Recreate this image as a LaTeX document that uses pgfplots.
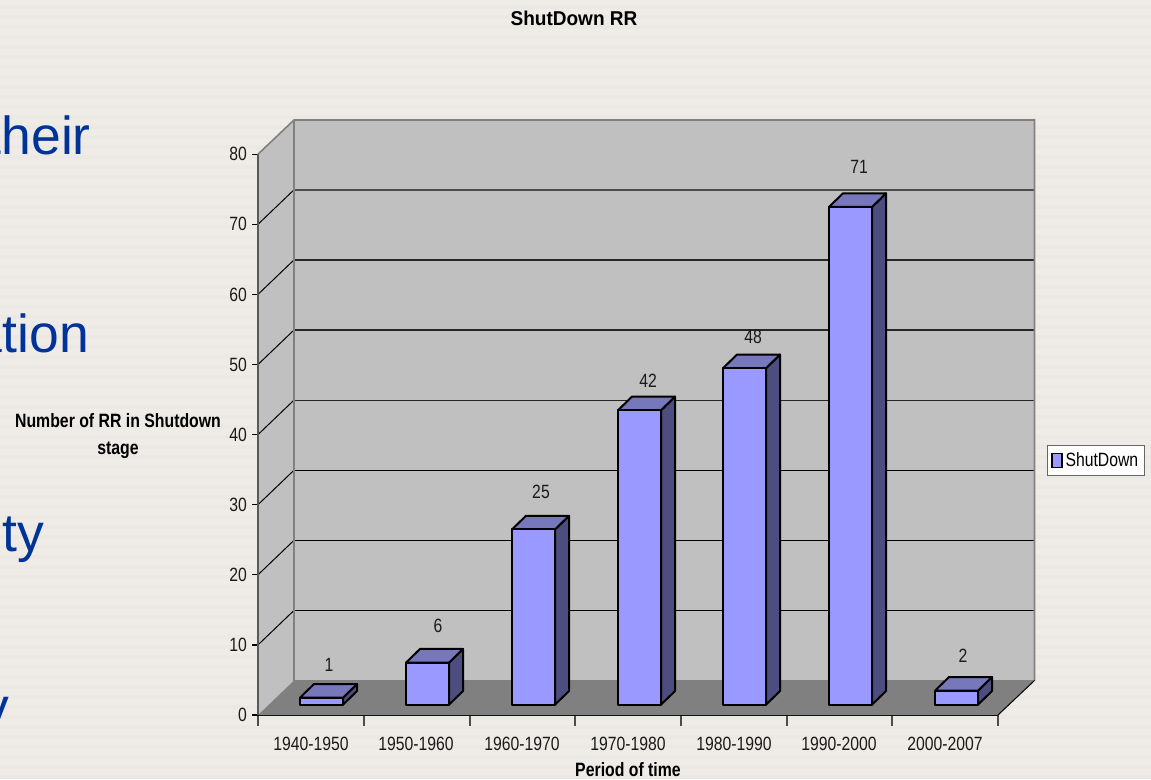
\documentclass[border=0pt]{standalone}
\usepackage{pgfplots}
\usepackage{fontspec}
\pgfplotsset{compat=1.18}
\setmainfont[FakeStretch=0.82]{Liberation Sans}
\newfontfamily\slidefont{Liberation Sans}
\definecolor{slidebg}{HTML}{EFECE8}
\definecolor{slidestripe}{HTML}{ECE9E4}
\definecolor{slideblue}{HTML}{003399}
\definecolor{wall}{HTML}{C0C0C0}
\definecolor{floorc}{HTML}{808080}
\definecolor{barfront}{HTML}{9999FF}
\definecolor{bartop}{HTML}{7777BB}
\definecolor{barside}{HTML}{4D4D80}
\definecolor{txt}{HTML}{1A1A1A}

% l = left edge of the front face, v = value; base sits 1.47 up the floor
\newcommand{\threedbar}[2]{
  \pgfmathsetmacro{\xa}{#1}
  \pgfmathsetmacro{\xb}{#1+43}
  \pgfmathsetmacro{\xc}{#1+14}
  \pgfmathsetmacro{\xd}{#1+57}
  \pgfmathsetmacro{\yt}{1.47+#2}
  \pgfmathsetmacro{\yb}{3.42+#2}
  \addplot[barline, fill=barside] coordinates {(\xb,1.47) (\xd,3.42) (\xd,\yb) (\xb,\yt)} -- cycle;
  \addplot[barline, fill=bartop] coordinates {(\xa,\yt) (\xc,\yb) (\xd,\yb) (\xb,\yt)} -- cycle;
  \addplot[barline, fill=barfront] coordinates {(\xa,1.47) (\xb,1.47) (\xb,\yt) (\xa,\yt)} -- cycle;
}

\begin{document}
\begin{tikzpicture}[x=1pt,y=1pt]
  \useasboundingbox (0,0) rectangle (1151,779);
  \clip (0,0) rectangle (1151,779);
  \fill[slidebg] (0,0) rectangle (1151,779);
  \foreach \s in {0,10,...,770} \fill[slidestripe] (0,\s) rectangle (1151,\s+4);
  \begin{scope}[every node/.style={text=slideblue,font=\slidefont\fontsize{53.5}{54}\selectfont,inner sep=0pt}]
    \node[anchor=base east] at (91,624) {their};
    \node[anchor=base east] at (89,426) {ation};
    \node[anchor=base east] at (44.5,227) {ety};
    \node[anchor=base east] at (9,53) {y};
  \end{scope}
  \begin{axis}[
    at={(258pt,64pt)},
    anchor=origin,
    scale only axis,
    width=740pt,
    height=560.8pt,
    xmin=0, xmax=740,
    ymin=0, ymax=80,
    clip=false,
    axis x line=bottom,
    axis y line=left,
    axis line style={-},
    x axis line style={black, line width=1.2pt},
    y axis line style={draw=none},
    xtick={53,158,264,370,476,581,687},
    xticklabels={1940-1950,1950-1960,1960-1970,1970-1980,1980-1990,1990-2000,2000-2007},
    minor xtick={0,106,212,317,423,529,634,740},
    ytick={0,10,...,80},
    tick align=outside,
    major tick length=6pt,
    minor tick length=11pt,
    major x tick style={draw=none},
    minor x tick style={color=black!70, line width=1.2pt},
    y tick style={black, line width=1.2pt},
    /pgf/number format/assume math mode=true,
    tick label style={font=\fontsize{19.2}{20}\selectfont, text=txt},
    x tick label style={yshift=-13pt},
    y tick label style={xshift=-1.5pt},
    every axis title/.style={at={(axis cs:316,99.43)},anchor=center,xscale=1.16,font=\fontsize{20}{22}\bfseries\selectfont,text=black},
    every axis x label/.style={at={(axis cs:370,-7.85)},anchor=center,font=\fontsize{19.3}{20}\bfseries\selectfont,text=black},
    every axis y label/.style={at={(axis cs:-140,39.75)},anchor=center,align=center,font=\fontsize{19.3}{27}\bfseries\selectfont,text=black},
    title={ShutDown RR},
    xlabel={Period of time},
    ylabel={Number of RR in Shutdown\\stage},
    barline/.style={draw=black, line width=2pt, line join=round, forget plot},
    legend style={at={(axis cs:789,38.5)}, anchor=north west, draw=black!60, fill=white,
      font=\fontsize{19.2}{20}\selectfont, inner xsep=4pt, inner ysep=5pt, line width=0.9pt},
    legend image code/.code={\draw[draw=black, line width=1.2pt, fill=barfront] (0pt,-7pt) rectangle (10pt,7pt); \path (11pt,0pt);},
  ]
    % walls and floor
    \addplot[forget plot, draw=none, fill=wall] coordinates {(36,4.92) (776.5,4.92) (776.5,84.88) (36,84.88)} -- cycle;
    \addplot[forget plot, draw=none, fill=wall] coordinates {(0,0) (36,4.92) (36,84.88) (0,80)} -- cycle;
    \addplot[forget plot, draw=none, fill=floorc] coordinates {(0,0) (36,4.92) (776.5,4.92) (740,0)} -- cycle;
    % gridlines on the back wall
    \addplot[forget plot, black, line width=1.2pt] coordinates {(36,14.92) (776.5,14.92)};
    \addplot[forget plot, black, line width=1.2pt] coordinates {(36,24.92) (776.5,24.92)};
    \addplot[forget plot, black, line width=1.2pt] coordinates {(36,34.92) (776.5,34.92)};
    \addplot[forget plot, black!85, line width=1.2pt] coordinates {(36,44.92) (776.5,44.92)};
    \addplot[forget plot, black!85, line width=1.2pt] coordinates {(36,54.92) (776.5,54.92)};
    \addplot[forget plot, black!85, line width=1.2pt] coordinates {(36,64.92) (776.5,64.92)};
    \addplot[forget plot, black!70, line width=1.5pt] coordinates {(36,74.92) (776.5,74.92)};
    % gridlines on the side wall
    \addplot[forget plot, black, line width=1pt] coordinates {(0,10) (36,14.92)};
    \addplot[forget plot, black, line width=1pt] coordinates {(0,20) (36,24.92)};
    \addplot[forget plot, black, line width=1pt] coordinates {(0,30) (36,34.92)};
    \addplot[forget plot, black, line width=1pt] coordinates {(0,40) (36,44.92)};
    \addplot[forget plot, black, line width=1pt] coordinates {(0,50) (36,54.92)};
    \addplot[forget plot, black, line width=1pt] coordinates {(0,60) (36,64.92)};
    \addplot[forget plot, black, line width=1pt] coordinates {(0,70) (36,74.92)};
    % wall edges
    \addplot[forget plot, floorc, line width=1.6pt] coordinates {(0,80) (36,84.88) (776.5,84.88) (776.5,4.92)};
    \addplot[forget plot, floorc, line width=1.6pt] coordinates {(36,84.88) (36,4.92) (776.5,4.92)};
    \addplot[forget plot, black!65, line width=1.8pt] coordinates {(0,0) (0,80)};
    \addplot[forget plot, black, line width=1pt] coordinates {(740,0) (776.5,4.92)};
    % bars
    \threedbar{42}{1}
    \threedbar{148}{6}
    \threedbar{254}{25}
    \threedbar{360}{42}
    \threedbar{465}{48}
    \threedbar{571}{71}
    \threedbar{677}{2}
    % value labels
    \addplot[forget plot, only marks, mark=none, point meta=explicit,
      nodes near coords,
      nodes near coords style={anchor=center, inner sep=0pt, font=\fontsize{19.2}{20}\selectfont, text=txt}]
      table[meta=v] {
        x y v
        71 7.13 1
        180 12.70 6
        283 31.81 25
        390 47.65 42
        495 53.92 48
        601 78.17 71
        705 8.42 2
      };
    \addlegendimage{barfront}
    \addlegendentry{ShutDown}
  \end{axis}
\end{tikzpicture}
\end{document}
